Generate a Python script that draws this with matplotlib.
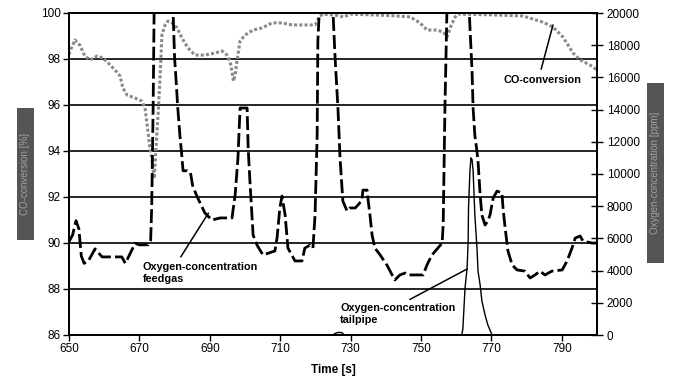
import matplotlib
matplotlib.use("Agg")
import matplotlib.pyplot as plt
import matplotlib.patches as patches

plt.rcParams['font.family'] = ['Liberation Sans', 'DejaVu Sans']

# CO-conversion [%] (left axis)
co_t = [650.0, 650.3, 651.7, 653.1, 654.5, 656.0, 658.0, 659.7, 661.1, 663.1, 664.5,
        665.3, 666.5, 668.8, 670.7, 671.6, 672.2, 673.0, 673.6, 674.2, 675.3, 675.9,
        676.4, 677.3, 678.1, 679.3, 680.7, 682.1, 683.8, 685.8, 688.6, 691.5, 693.5,
        694.9, 695.7, 696.3, 696.7, 697.2, 697.7, 698.6, 700.0, 702.3, 704.8, 707.7,
        710.5, 713.4, 717.0, 719.9, 721.3, 722.2, 726.0, 728.0, 730.0, 740.0, 746.9,
        749.7, 751.7, 754.5, 756.3, 757.4, 758.4, 759.7, 760.5, 770.0, 779.0, 784.7,
        787.5, 790.3, 793.2, 795.2, 798.0, 800.0]
co_val = [98.2, 98.35, 98.83, 98.6, 98.13, 97.96, 98.13, 98.04, 97.83, 97.52, 97.26,
          96.74, 96.43, 96.3, 96.17, 95.87, 95.13, 94.13, 93.57, 92.8, 95.57, 97.3,
          99.04, 99.48, 99.65, 99.57, 99.35, 98.91, 98.48, 98.17, 98.17, 98.26, 98.35,
          98.17, 97.91, 97.48, 97.04, 97.3, 97.91, 98.78, 99.04, 99.26, 99.35, 99.57,
          99.57, 99.48, 99.48, 99.48, 99.87, 99.95, 99.9, 99.83, 99.95, 99.9, 99.83,
          99.57, 99.26, 99.26, 99.17, 98.96, 99.39, 99.83, 99.95, 99.92, 99.87, 99.6,
          99.39, 98.96, 98.26, 97.96, 97.74, 97.52]

# Oxygen-concentration feedgas [ppm] (right axis)
fg_t = [650.0, 651.0, 652.0, 652.8, 653.5, 654.3, 655.5, 657.4, 659.4, 662.0, 665.0,
        666.0, 668.8, 670.0, 672.5, 673.2, 673.5, 673.9, 674.2, 676.0, 679.0, 679.5,
        680.0, 680.6, 680.9, 681.5, 682.1, 682.4, 683.6, 684.5, 685.1, 686.0, 686.6,
        688.6, 690.6, 692.9, 696.3, 697.2, 698.0, 698.6, 700.6, 700.9, 701.4, 702.3,
        703.4, 705.1, 708.5, 709.1, 709.9, 710.5, 711.4, 712.2, 714.2, 716.2, 717.0,
        718.5, 719.3, 719.9, 720.5, 720.7, 721.3, 723.0, 724.8, 725.6, 726.4, 727.0,
        727.8, 729.0, 729.8, 731.3, 732.1, 733.2, 733.5, 734.7, 734.9, 735.5, 736.1,
        736.9, 738.4, 740.3, 741.8, 742.6, 744.0, 745.5, 746.3, 750.6, 751.7, 753.1,
        754.8, 756.0, 756.3, 756.8, 757.4, 760.0, 763.5, 764.5, 764.8, 765.3, 765.9,
        766.2, 766.8, 767.3, 768.2, 769.0, 769.6, 770.5, 771.6, 773.0, 773.3, 773.9,
        774.7, 775.9, 777.3, 779.5, 781.0, 782.4, 783.8, 785.2, 787.2, 790.1, 791.5,
        792.9, 793.8, 795.2, 796.0, 798.6, 800.0]
fg_val = [5800, 6200, 7100, 6600, 4900, 4450, 4600, 5350, 4850, 4850, 4850,
          4450, 5700, 5600, 5600, 5900, 8000, 14100, 20500, 25000, 25000, 20500,
          17200, 15200, 14100, 12420, 11000, 10200, 10200, 10100, 9300, 8800, 8500,
          7580, 7140, 7270, 7270, 8700, 11000, 14100, 14100, 11600, 9560, 6210,
          5590, 4970, 5220, 6020, 7890, 8630, 7450, 5400, 4600, 4600, 5400,
          5590, 5400, 7450, 12420, 18260, 21000, 25000, 21000, 17200, 14100, 11000,
          8320, 7700, 7890, 7890, 8070, 8380, 9000, 9000, 8510, 7450, 6210,
          5400, 4970, 4350, 3730, 3420, 3730, 3850, 3730, 3730, 4350, 4970,
          5400, 5710, 6830, 14100, 20500, 25000, 21000, 16400, 14100, 12400, 11400,
          10800, 8700, 7450, 6830, 7080, 7450, 8510, 8940, 8820, 7890, 6650,
          5220, 4350, 4040, 3970, 3540, 3730, 3970, 3730, 3970, 4040, 4600,
          5400, 6020, 6150, 5840, 5710, 5710]

# Oxygen-concentration tailpipe [ppm] (right axis)
tp_t = [650.0, 725.0, 725.6, 726.5, 727.5, 728.2, 761.6, 761.9, 762.5, 763.1, 763.4,
        763.5, 763.9, 764.2, 764.5, 764.8, 765.3, 765.9, 766.2, 766.8, 767.3, 768.2,
        769.0, 770.2, 800.0]
tp_val = [0, 0, 100, 160, 150, 0, 0, 400, 2900, 4160, 5840,
          7900, 10200, 11000, 10900, 10200, 7450, 5400, 3970, 3100, 2110, 1240,
          620, 0, 0]

x_ticks = [650, 670, 690, 710, 730, 750, 770, 790]
left_ticks = [86, 88, 90, 92, 94, 96, 98, 100]
right_ticks = list(range(0, 20001, 2000))

fig = plt.figure(figsize=(6.74, 3.89), dpi=100)
ax = fig.add_axes([69 / 674, 54 / 389, 528 / 674, 322 / 389])
ax2 = ax.twinx()

for y in left_ticks[1:-1]:
    ax.axhline(y, color='black', lw=1.2, zorder=1)

ax.plot(co_t, co_val, color='#8a8a8a', lw=2.2, linestyle=(0, (1, 0.7)), zorder=2)
ax2.plot(fg_t, fg_val, color='black', lw=2.0, linestyle=(0, (5, 1.5)))
ax2.plot(tp_t, tp_val, color='black', lw=1.0)

ax.set_xlim(650, 800)
ax.set_ylim(86, 100)
ax2.set_ylim(0, 20000)
ax.set_xticks(x_ticks)
ax.set_yticks(left_ticks)
ax2.set_yticks(right_ticks)

for a in (ax, ax2):
    for s in a.spines.values():
        s.set_linewidth(1.3)
        s.set_color('black')
ax.tick_params(axis='both', labelsize=8.5, direction='out', length=4, width=1, pad=2)
ax2.tick_params(axis='y', labelsize=8.5, direction='inout', length=8, width=1, pad=3)

ax.set_xlabel('Time [s]', fontsize=8.5, fontweight='bold', labelpad=6)

# annotations
ax.annotate('CO-conversion', xy=(787.5, 99.48), xytext=(784.6, 97.1),
            fontsize=7.8, fontweight='bold', ha='center', va='center',
            arrowprops=dict(arrowstyle='-', color='black', lw=1.1,
                            relpos=(0.46, 1.0), shrinkA=2, shrinkB=0))
ax.annotate('Oxygen-concentration\nfeedgas', xy=(689.6, 91.3), xytext=(671.0, 88.7),
            fontsize=7.8, fontweight='bold', ha='left', va='center', linespacing=1.2,
            arrowprops=dict(arrowstyle='-', color='black', lw=1.1,
                            relpos=(0.3, 1.0), shrinkA=2, shrinkB=0))
ax.annotate('Oxygen-concentration\ntailpipe', xy=(763.1, 88.87), xytext=(727.0, 86.9),
            fontsize=7.8, fontweight='bold', ha='left', va='center', linespacing=1.2,
            arrowprops=dict(arrowstyle='-', color='black', lw=1.1,
                            relpos=(0.54, 1.0), shrinkA=2, shrinkB=0))

# obscured axis titles
for (x0, y0, w, h, label) in [(17, 108, 17, 132, 'CO-conversion [%]'),
                              (647, 83, 17, 180, 'Oxygen-concentration [ppm]')]:
    fig.patches.append(patches.Rectangle((x0 / 674, 1 - (y0 + h) / 389), w / 674, h / 389,
                                         transform=fig.transFigure, facecolor='#555555',
                                         edgecolor='none'))
    fig.text((x0 + w / 2) / 674, 1 - (y0 + h / 2) / 389, label, rotation=90,
             ha='center', va='center', fontsize=7, color='#a0a0a0')

fig.savefig('out.png', dpi=100)
